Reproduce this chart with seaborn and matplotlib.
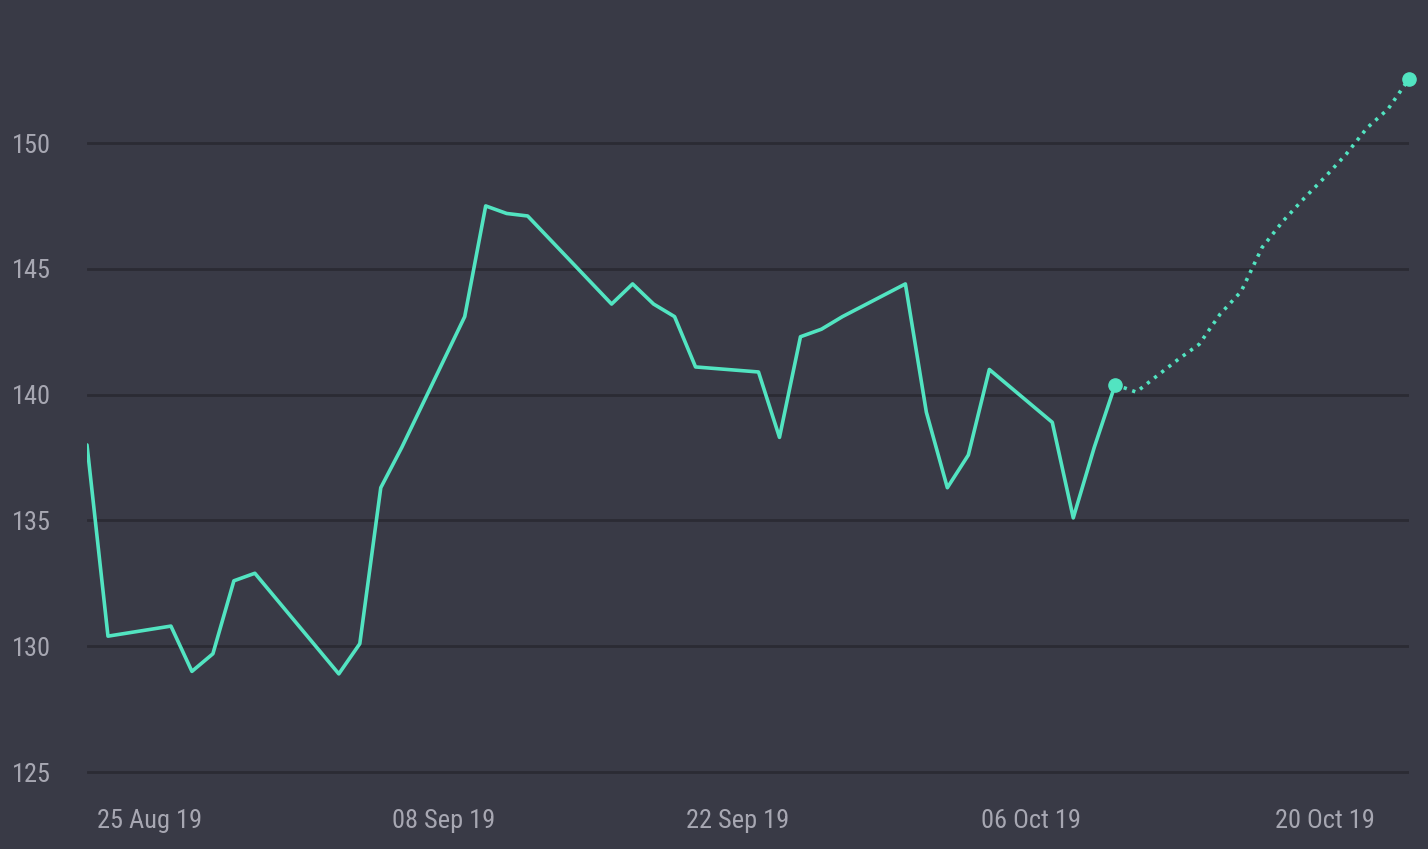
import pandas as pd
import numpy as np
import matplotlib
matplotlib.use("Agg")
import matplotlib.pyplot as plt
import matplotlib.dates as mdates
from matplotlib import font_manager
import seaborn as sns

# ------------------------------
# data
# ------------------------------
hist_dates = [
    "2019-08-22", "2019-08-23", "2019-08-26", "2019-08-27", "2019-08-28",
    "2019-08-29", "2019-08-30", "2019-09-03", "2019-09-04", "2019-09-05",
    "2019-09-06", "2019-09-09", "2019-09-10", "2019-09-11", "2019-09-12",
    "2019-09-16", "2019-09-17", "2019-09-18", "2019-09-19", "2019-09-20",
    "2019-09-23", "2019-09-24", "2019-09-25", "2019-09-26", "2019-09-27",
    "2019-09-30", "2019-10-01", "2019-10-02", "2019-10-03", "2019-10-04",
    "2019-10-07", "2019-10-08", "2019-10-09", "2019-10-10",
]
hist_values = [
    138.0, 130.4, 130.8, 129.0, 129.7,
    132.6, 132.9, 128.9, 130.1, 136.3,
    137.9, 143.1, 147.5, 147.2, 147.1,
    143.6, 144.4, 143.6, 143.1, 141.1,
    140.9, 138.3, 142.3, 142.6, 143.1,
    144.4, 139.3, 136.3, 137.6, 141.0,
    138.9, 135.1, 137.9, 140.4,
]

fc_dates = [
    "2019-10-10", "2019-10-11", "2019-10-12", "2019-10-13", "2019-10-14",
    "2019-10-15", "2019-10-16", "2019-10-17", "2019-10-18", "2019-10-19",
    "2019-10-20", "2019-10-21", "2019-10-22", "2019-10-23", "2019-10-24",
]
fc_values = [
    140.4, 140.1, 140.75, 141.4, 142.0,
    143.2, 144.1, 145.85, 146.9, 147.8,
    148.65, 149.55, 150.6, 151.35, 152.55,
]

tick_dates = ["2019-08-25", "2019-09-08", "2019-09-22", "2019-10-06", "2019-10-20"]
y_ticks = [125, 130, 135, 140, 145, 150]

hist = pd.DataFrame({"date": pd.to_datetime(hist_dates), "value": hist_values})
fc = pd.DataFrame({"date": pd.to_datetime(fc_dates), "value": fc_values})

# ------------------------------
# style
# ------------------------------
bg = "#393a46"
grid_col = "#2b2b34"
text_col = "#a7a7b2"
line_col = "#52e4c1"

sns.set_theme(style="dark")
available = {f.name for f in font_manager.fontManager.ttflist}
fams = [f for f in ["Liberation Sans Narrow", "Roboto Condensed", "DejaVu Sans Condensed", "Roboto"]
        if f in available]
plt.rcParams["font.family"] = fams + ["DejaVu Sans"]

fig = plt.figure(figsize=(14.28, 8.49), dpi=100, facecolor=bg)
ax = fig.add_axes([87 / 1428, 1 - 790 / 849, (1409 - 87) / 1428, (790 - 20) / 849])
ax.set_facecolor(bg)

sns.lineplot(data=hist, x="date", y="value", ax=ax, color=line_col, linewidth=2.6)
sns.lineplot(data=fc, x="date", y="value", ax=ax, color=line_col, linewidth=2.6,
             linestyle=(0, (0.9, 1.6)))
ax.plot(fc["date"].iloc[[0, -1]], fc["value"].iloc[[0, -1]], "o",
        color=line_col, markersize=9.5, linestyle="none", clip_on=False, zorder=5)

ax.set_xlim(hist["date"].iloc[0], fc["date"].iloc[-1])
ax.set_ylim(124.285, 154.89)
ax.set_yticks(y_ticks)
ax.set_xticks(pd.to_datetime(tick_dates))
ax.xaxis.set_major_formatter(mdates.DateFormatter("%d %b %y"))

ax.grid(axis="y", color=grid_col, linewidth=2)
ax.grid(axis="x", visible=False)
for s in ax.spines.values():
    s.set_visible(False)
ax.tick_params(axis="both", length=0, colors=text_col, labelsize=19)
ax.tick_params(axis="y", pad=26)
ax.tick_params(axis="x", pad=14)
ax.set_xlabel("")
ax.set_ylabel("")

fig.savefig("out.png", dpi=100, facecolor=bg)
